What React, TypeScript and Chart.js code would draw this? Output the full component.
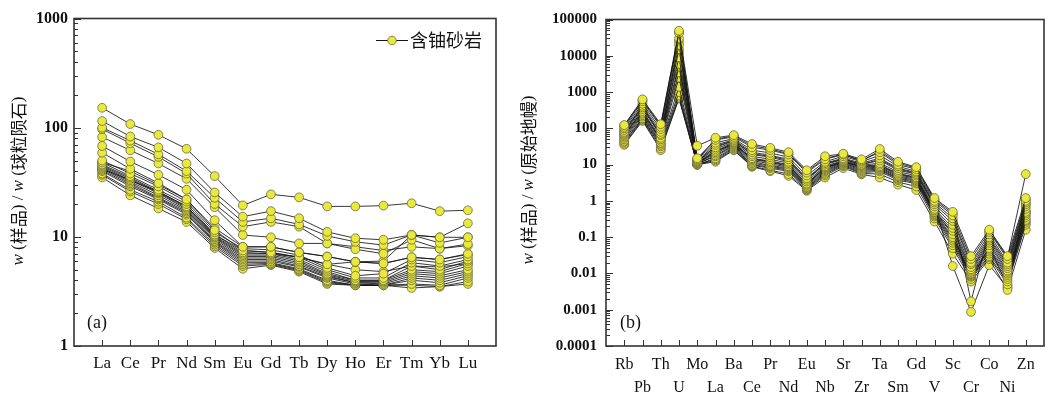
import React, { useEffect, useRef } from 'react';
import { Chart, registerables } from 'chart.js';

Chart.register(...registerables);

// ---------- Panel (a): chondrite-normalised REE ----------
const reeLabels = ['La', 'Ce', 'Pr', 'Nd', 'Sm', 'Eu', 'Gd', 'Tb', 'Dy', 'Ho', 'Er', 'Tm', 'Yb', 'Lu'];
const reeSamples: number[][] = [
  [152, 108, 86, 64, 36, 19.4, 24.5, 23, 19, 19, 19.3, 20.3, 17.2, 17.5],
  [115, 83, 66, 47, 25.5, 15.3, 17.2, 14.8, 11.1, 9.7, 9.4, 10.4, 9.9, 13.3],
  [100, 76, 57, 40, 22.8, 13.7, 14.8, 13, 10.2, 9.0, 8.4, 10.4, 8.8, 9.9],
  [97, 72, 54, 38, 20, 12.4, 13.7, 12.4, 8.7, 7.7, 7.0, 9.4, 7.8, 8.6],
  [82, 62, 47, 34, 18.7, 10.4, 9.9, 8.7, 8.7, 8.1, 7.5, 8.1, 7.8, 8.3],
  [68, 49, 37, 27, 14.2, 8.1, 8.1, 7.2, 6.6, 5.9, 5.7, 6.5, 6.2, 7.0],
  [59, 42, 31, 22, 11.5, 7.5, 7.2, 6.5, 5.6, 5.9, 6.0, 10.4, 9.9, 9.9],
  [50, 38, 29, 21, 11, 7.8, 7.6, 6.8, 5.2, 4.4, 4.6, 6.2, 5.8, 6.6],
  [48, 36, 27, 20, 10.5, 7.2, 7.0, 6.5, 5.0, 4.2, 4.2, 5.8, 5.4, 6.2],
  [46, 35, 26, 19, 10.2, 7.0, 7.0, 6.2, 4.8, 4.0, 4.0, 5.4, 5.0, 6.0],
  [45, 34, 25.5, 18.5, 10, 6.8, 6.8, 6.0, 4.6, 4.0, 4.0, 5.0, 4.8, 5.7],
  [44, 33, 25, 18, 9.8, 6.6, 6.6, 5.8, 4.5, 3.9, 3.9, 4.8, 4.6, 5.4],
  [43, 32, 24, 17.5, 9.5, 6.4, 6.4, 5.6, 4.4, 3.8, 3.8, 4.6, 4.4, 5.0],
  [42, 31, 23, 17, 9.2, 6.2, 6.2, 5.4, 4.3, 3.8, 3.7, 4.4, 4.2, 4.8],
  [41, 30, 22.5, 16.5, 9.0, 6.0, 6.0, 5.3, 4.2, 3.7, 3.6, 4.2, 4.0, 4.6],
  [40, 29, 22, 16, 8.8, 5.8, 5.8, 5.1, 4.0, 3.6, 3.6, 4.0, 3.8, 4.4],
  [38, 27, 21, 15, 8.5, 5.6, 5.7, 5.0, 3.9, 3.6, 3.6, 3.7, 3.6, 4.2],
  [37, 26, 20, 14.5, 8.2, 5.4, 5.6, 4.9, 3.8, 3.6, 3.6, 3.4, 3.5, 3.9],
  [35, 24, 18.2, 13.7, 7.9, 5.1, 5.5, 4.8, 3.7, 3.6, 3.6, 3.6, 3.5, 3.7],
  [48, 40, 30, 22, 12, 8.1, 8.1, 7.2, 6.6, 5.9, 5.7, 6.5, 6.2, 6.9],
  [42, 33, 26, 19, 10.5, 7.5, 7.2, 6.5, 5.6, 5.0, 4.8, 5.4, 5.3, 5.7],
];
const reeMin = 1;
const reeMax = 1000;

// ---------- Panel (b): primitive-mantle-normalised trace elements ----------
const traceLabels = ['Rb', 'Pb', 'Th', 'U', 'Mo', 'La', 'Ba', 'Ce', 'Pr', 'Nd', 'Eu', 'Nb', 'Sr', 'Zr', 'Ta', 'Sm', 'Gd', 'V', 'Sc', 'Cr', 'Co', 'Ni', 'Zn'];
const traceSamples: number[][] = [
  [123, 630, 130, 49000, 33, 55, 65, 37, 29, 22, 7, 17, 20, 14, 27, 12, 8.5, 1.2, 0.5, 0.03, 0.16, 0.03, 1.2],
  [110, 560, 110, 42000, 15, 48, 58, 30, 25, 19, 6, 14, 19, 13, 22, 10, 7.5, 1.0, 0.4, 0.025, 0.14, 0.025, 1.0],
  [100, 480, 95, 30000, 14, 40, 52, 25, 21, 16, 5, 12, 17, 12, 18, 9, 6.5, 0.9, 0.33, 0.02, 0.12, 0.02, 0.9],
  [90, 420, 80, 20000, 13, 35, 48, 22, 18, 14, 4.2, 11, 15, 11, 15, 8, 6, 0.8, 0.28, 0.018, 0.1, 0.018, 0.8],
  [80, 380, 70, 15000, 12.5, 30, 45, 19, 16, 12, 3.8, 10, 14, 10, 13, 7, 5.5, 0.7, 0.22, 0.015, 0.09, 0.016, 0.7],
  [75, 340, 65, 9000, 12, 27, 42, 17, 14, 11, 3.4, 9, 13, 9.5, 11, 6.3, 5, 0.6, 0.18, 0.013, 0.08, 0.014, 0.6],
  [70, 300, 55, 6000, 11.5, 24, 40, 15, 12.5, 10, 3.0, 8.5, 12.5, 9, 10, 5.7, 4.5, 0.55, 0.15, 0.012, 0.07, 0.012, 0.5],
  [65, 270, 50, 5000, 11, 22, 38, 14, 11.5, 9, 2.8, 8, 12, 8.5, 9, 5.2, 4.2, 0.5, 0.12, 0.011, 0.06, 0.011, 0.45],
  [60, 250, 45, 3500, 11, 20, 36, 13, 10.5, 8.5, 2.6, 7.5, 11.5, 8, 8.5, 4.8, 4, 0.48, 0.1, 0.01, 0.05, 0.01, 0.4],
  [55, 230, 40, 2500, 10.5, 18, 34, 12, 9.5, 8, 2.4, 7, 11, 7.5, 8, 4.5, 3.7, 0.45, 0.09, 0.0095, 0.045, 0.009, 0.35],
  [50, 210, 38, 1400, 10.5, 17, 32, 11, 9, 7.5, 2.3, 6.5, 10.5, 7, 7.5, 4.2, 3.5, 0.42, 0.08, 0.009, 0.04, 0.008, 0.3],
  [45, 190, 35, 1000, 10, 15, 30, 10, 8.5, 7, 2.2, 6, 10, 6.5, 7, 4, 3.2, 0.4, 0.07, 0.0085, 0.035, 0.007, 0.28],
  [42, 180, 32, 800, 10, 14, 28, 9.5, 8, 6.5, 2.1, 5.5, 9.5, 6, 6.5, 3.7, 3, 0.37, 0.06, 0.008, 0.03, 0.006, 0.25],
  [38, 170, 28, 700, 10, 13, 26, 9, 7, 5.5, 2.0, 5, 9, 5.7, 5.5, 3.3, 2.5, 0.33, 0.05, 0.007, 0.028, 0.005, 0.22],
  [35, 160, 25, 660, 10, 12, 25, 8.7, 6.6, 4.9, 1.9, 4.4, 8, 5.4, 4.4, 2.8, 2.0, 0.27, 0.035, 0.006, 0.025, 0.0035, 0.16],
  [120, 600, 120, 45000, 14, 50, 62, 33, 27, 20, 6.5, 15, 19, 12.5, 24, 11, 8, 1.1, 0.45, 0.0017, 0.15, 0.028, 5.5],
  [85, 400, 60, 25000, 12, 32, 46, 20, 17, 13, 4, 10.5, 14.5, 10, 14, 7.5, 5.8, 0.75, 0.016, 0.00087, 0.017, 0.004, 1.1],
  [68, 290, 48, 12000, 11, 23, 37, 14.5, 12, 9.5, 2.9, 8.2, 12, 8.7, 9.5, 5.5, 4.4, 0.52, 0.13, 0.0065, 0.055, 0.0045, 0.5],
];
const traceMin = 0.0001;
const traceMax = 100000;

const legendText = '含铀砂岩';
const titleA = [
  { t: 'w', k: 'i' }, { t: ' (', k: 's' }, { t: '样品', k: 'c' }, { t: ') / ', k: 's' },
  { t: 'w', k: 'i' }, { t: ' (', k: 's' }, { t: '球粒陨石', k: 'c' }, { t: ')', k: 's' },
];
const titleB = [
  { t: 'w', k: 'i' }, { t: ' (', k: 's' }, { t: '样品', k: 'c' }, { t: ') / ', k: 's' },
  { t: 'w', k: 'i' }, { t: ' (', k: 's' }, { t: '原始地幔', k: 'c' }, { t: ')', k: 's' },
];

const SERIF = '"Liberation Serif", "Times New Roman", serif';
const CJK = '"Noto Sans CJK SC", sans-serif';
const MARKER = '#e9e83c';
const MARKER_EDGE = '#6a6a40';
const LINE = '#141414';
const FRAME = '#333333';

function fontFor(k: string, size: number) {
  if (k === 'i') return `italic ${size}px ${SERIF}`;
  if (k === 'c') return `${size}px ${CJK}`;
  return `${size}px ${SERIF}`;
}

const decorPlugin = {
  id: 'decor',
  afterDraw(chart: any, _args: any, opts: any) {
    const { ctx, chartArea: a, scales } = chart;
    const xs = scales.x;
    const ys = scales.y;
    ctx.save();
    // inside ticks
    ctx.strokeStyle = FRAME;
    ctx.lineWidth = 1;
    ctx.beginPath();
    const minE = Math.round(Math.log10(opts.ymin));
    const maxE = Math.round(Math.log10(opts.ymax));
    for (let e = minE; e <= maxE; e++) {
      for (let k = 1; k <= 9; k++) {
        const v = k * Math.pow(10, e);
        if (v > opts.ymax * 1.0001) break;
        const py = Math.round(ys.getPixelForValue(v)) + 0.5;
        const len = k === 1 ? 7 : 4;
        ctx.moveTo(a.left, py);
        ctx.lineTo(a.left + len, py);
      }
    }
    for (let i = 0; i < opts.count; i++) {
      const px = Math.round(xs.getPixelForValue(i)) + 0.5;
      ctx.moveTo(px, a.bottom);
      ctx.lineTo(px, a.bottom - 6);
    }
    ctx.stroke();
    // frame
    ctx.lineWidth = 1.6;
    ctx.strokeStyle = FRAME;
    ctx.strokeRect(a.left, a.top, a.right - a.left, a.bottom - a.top);
    // panel letter
    ctx.fillStyle = '#111';
    ctx.font = `18px ${SERIF}`;
    ctx.textBaseline = 'middle';
    ctx.textAlign = 'left';
    ctx.fillText(opts.letter, a.left + opts.letterDx, a.bottom - 23);
    // rotated y title
    const size = 17;
    let total = 0;
    const widths = opts.title.map((s: any) => {
      ctx.font = fontFor(s.k, size);
      const w = ctx.measureText(s.t).width;
      total += w;
      return w;
    });
    ctx.save();
    ctx.translate(opts.titleX, opts.titleY);
    ctx.rotate(-Math.PI / 2);
    let cx = -total / 2;
    opts.title.forEach((s: any, i: number) => {
      ctx.font = fontFor(s.k, size);
      ctx.fillText(s.t, cx, 0);
      cx += widths[i];
    });
    ctx.restore();
    // legend
    if (opts.legend) {
      const ly = a.top + 22;
      const lx = a.right - 120;
      ctx.strokeStyle = LINE;
      ctx.lineWidth = 1;
      ctx.beginPath();
      ctx.moveTo(lx, ly);
      ctx.lineTo(lx + 32, ly);
      ctx.stroke();
      ctx.beginPath();
      ctx.arc(lx + 16, ly, 4.3, 0, Math.PI * 2);
      ctx.fillStyle = MARKER;
      ctx.fill();
      ctx.strokeStyle = MARKER_EDGE;
      ctx.lineWidth = 0.8;
      ctx.stroke();
      ctx.fillStyle = '#111';
      ctx.font = `18px ${CJK}`;
      ctx.textBaseline = 'middle';
      ctx.fillText(opts.legend, lx + 34, ly);
    }
    ctx.restore();
  },
};

function powLabel(v: number) {
  const l = Math.log10(v);
  const e = Math.round(l);
  if (Math.abs(l - e) > 1e-6) return '';
  return e >= 0 ? String(Math.pow(10, e)) : Math.pow(10, e).toFixed(-e);
}

function makeDatasets(samples: number[][]) {
  return samples.map((vals, si) => ({
    label: 's' + si,
    data: vals.map((v, i) => ({ x: i, y: v })),
    borderColor: LINE,
    borderWidth: 0.85,
    pointBackgroundColor: MARKER,
    pointBorderColor: MARKER_EDGE,
    pointBorderWidth: 0.8,
    pointRadius: 4.4,
    tension: 0,
  }));
}

interface PanelProps {
  width: number;
  height: number;
  labels: string[];
  samples: number[][];
  ymin: number;
  ymax: number;
  yWidth: number;
  xHeight: number;
  padTop: number;
  padRight: number;
  xMin: number;
  xMax: number;
  twoRow: boolean;
  tickFont: number;
  yTickFont: number;
  xPad: number;
  yPad: number;
  letter: string;
  letterDx: number;
  title: any[];
  titleX: number;
  titleY: number;
  legend?: string;
}

function Panel(p: PanelProps) {
  const ref = useRef<HTMLCanvasElement | null>(null);
  useEffect(() => {
    if (!ref.current) return;
    const chart = new Chart(ref.current, {
      type: 'line',
      data: { datasets: makeDatasets(p.samples) as any },
      options: {
        animation: false,
        responsive: false,
        layout: { padding: { left: 0, right: p.padRight, top: p.padTop, bottom: 0 } },
        plugins: {
          legend: { display: false },
          tooltip: { enabled: false },
          decor: {
            count: p.labels.length,
            ymin: p.ymin,
            ymax: p.ymax,
            letter: p.letter,
            letterDx: p.letterDx,
            title: p.title,
            titleX: p.titleX,
            titleY: p.titleY,
            legend: p.legend,
          },
        } as any,
        scales: {
          x: {
            type: 'linear',
            min: p.xMin,
            max: p.xMax,
            grid: { display: false, drawTicks: false },
            border: { display: false },
            afterFit: (s: any) => { s.height = p.xHeight; },
            ticks: {
              stepSize: 1,
              autoSkip: false,
              maxRotation: 0,
              includeBounds: false,
              padding: p.xPad,
              color: '#111',
              font: { family: SERIF, size: p.tickFont, lineHeight: 1.4 },
              callback: (value: any) => {
                const i = Number(value);
                if (!Number.isInteger(i) || i < 0 || i >= p.labels.length) return '';
                const lab = p.labels[i];
                if (!p.twoRow) return lab;
                return i % 2 === 0 ? [lab, ''] : ['', lab];
              },
            },
          },
          y: {
            type: 'logarithmic',
            min: p.ymin,
            max: p.ymax,
            grid: { display: false, drawTicks: false },
            border: { display: false },
            afterFit: (s: any) => { s.width = p.yWidth; },
            ticks: {
              autoSkip: false,
              padding: p.yPad,
              color: '#111',
              font: { family: SERIF, size: p.yTickFont, weight: 'bold' },
              callback: (value: any) => powLabel(Number(value)),
            },
          },
        },
      } as any,
      plugins: [decorPlugin as any],
    });
    return () => chart.destroy();
  }, []);
  return <canvas ref={ref} width={p.width} height={p.height} style={{ display: 'block' }} />;
}

export default function App() {
  useEffect(() => {
    document.body.style.margin = '0';
    document.body.style.background = '#ffffff';
  }, []);
  return (
    <div style={{ display: 'flex', width: 1059, height: 394, background: '#fff', overflow: 'hidden' }}>
      <Panel
        width={515}
        height={394}
        labels={reeLabels}
        samples={reeSamples}
        ymin={reeMin}
        ymax={reeMax}
        yWidth={74}
        xHeight={48}
        padTop={18.5}
        padRight={19}
        xMin={-1}
        xMax={14}
        twoRow={false}
        tickFont={17}
        yTickFont={16}
        xPad={6}
        yPad={6}
        letter="(a)"
        letterDx={13}
        title={titleA}
        titleX={19}
        titleY={181}
        legend={legendText}
      />
      <Panel
        width={544}
        height={394}
        labels={traceLabels}
        samples={traceSamples}
        ymin={traceMin}
        ymax={traceMax}
        yWidth={91}
        xHeight={48}
        padTop={19.5}
        padRight={15}
        xMin={-1}
        xMax={23}
        twoRow={true}
        tickFont={16}
        yTickFont={15}
        xPad={8}
        yPad={9}
        letter="(b)"
        letterDx={14}
        title={titleB}
        titleX={14}
        titleY={180}
      />
    </div>
  );
}
